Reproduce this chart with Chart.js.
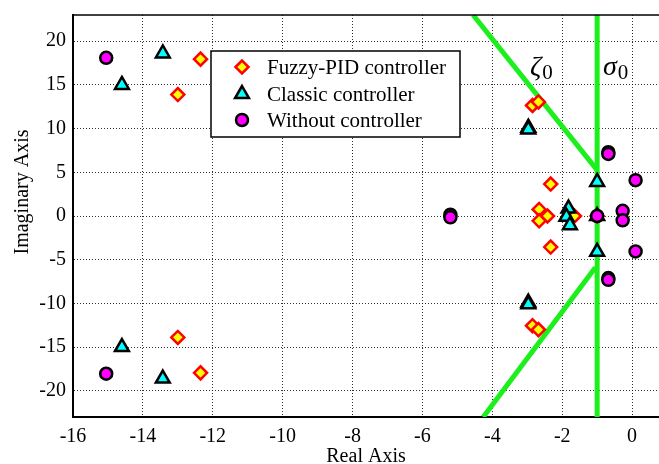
<!doctype html>
<html lang="en">
  <head>
    <meta charset="UTF-8" />
    <title>Pole map</title>
    <script src="https://cdn.jsdelivr.net/npm/chart.js"></script>
    <style>
      html,
      body {
        margin: 0;
        overflow: hidden;
        background: #fff;
      }
      #wrap {
        width: 659px;
        height: 464px;
      }
      canvas {
        display: block;
      }
    </style>
  </head>
  <body>
    <div id="wrap"><canvas id="poleChart" width="659" height="464"></canvas></div>
    <script>
      // Fuzzy-PID controller poles (real / imaginary parts)
      const fuzzyRe = [-13.0, -12.35, -13.0, -12.35, -2.85, -2.68, -2.85, -2.68, -2.33, -2.33, -2.66, -2.42, -2.66, -1.65, -1.0];
      const fuzzyIm = [13.9, 17.95, -13.9, -17.95, 12.65, 13.05, -12.55, -13.0, 3.65, -3.55, 0.75, 0.0, -0.55, 0.0, 0.0];

      // Classic controller poles
      const classicRe = [-14.6, -13.43, -14.6, -13.43, -2.97, -2.97, -2.97, -2.97, -1.0, -1.0, -1.0, -1.82, -1.88, -1.78];
      const classicIm = [15.0, 18.6, -15.0, -18.6, 10.1, 9.9, -9.9, -10.1, 3.9, -4.1, 0.0, 0.85, -0.1, -1.05];

      // Without controller poles
      const withoutRe = [-15.05, -15.05, -5.2, -5.2, -0.68, -0.68, -0.68, -0.68, 0.1, 0.1, -1.0, -0.27, -0.27];
      const withoutIm = [18.1, -18.05, 0.15, -0.15, 7.3, 7.1, -7.1, -7.3, 4.1, -4.05, 0.0, 0.6, -0.5];

      // damping (zeta0) and decay (sigma0) boundaries
      const zetaUpRe = [-4.55, -1.0];
      const zetaUpIm = [23, 5.25];
      const zetaDownRe = [-4.26, -1.05];
      const zetaDownIm = [-23, -5.9];
      const sigmaRe = [-1.0, -1.0];
      const sigmaIm = [-23, 23];

      const xTicks = [-16, -14, -12, -10, -8, -6, -4, -2, 0];
      const yTicks = [-20, -15, -10, -5, 0, 5, 10, 15, 20];

      const seriesNames = ['Fuzzy-PID controller', 'Classic controller', 'Without controller'];

      const toPoints = (re, im) => re.map((x, i) => ({ x: x, y: im[i] }));

      const serif = 'Liberation Serif';
      const green = '#1cf01c';

      function boundary(re, im) {
        return {
          data: toPoints(re, im),
          showLine: true,
          borderColor: green,
          borderWidth: 5,
          pointRadius: 0,
          pointHoverRadius: 0,
          order: 4,
        };
      }

      // symbol followed by an upright subscript 0
      function symbolZero(ctx, sym, x, y) {
        ctx.font = 'italic 28px "' + serif + '"';
        ctx.fillText(sym, x, y);
        const w = ctx.measureText(sym).width;
        ctx.font = '21px "' + serif + '"';
        ctx.fillText('0', x + w + 1, y + 4);
      }

      // box legend plus frame, titles and zeta/sigma labels
      const extras = {
        id: 'extras',
        afterDraw(chart) {
          const ctx = chart.ctx;
          const area = chart.chartArea;
          ctx.save();

          // top frame line
          ctx.strokeStyle = '#000';
          ctx.lineWidth = 1.5;
          ctx.beginPath();
          ctx.moveTo(area.left, area.top);
          ctx.lineTo(area.right, area.top);
          ctx.stroke();

          // axis titles
          ctx.fillStyle = '#000';
          ctx.font = '20px "' + serif + '"';
          ctx.textAlign = 'center';
          ctx.textBaseline = 'alphabetic';
          ctx.fillText('Real Axis', 366, 462);
          ctx.save();
          ctx.translate(28, 192);
          ctx.rotate(-Math.PI / 2);
          ctx.fillText('Imaginary Axis', 0, 0);
          ctx.restore();

          // zeta0 / sigma0
          ctx.textAlign = 'left';
          symbolZero(ctx, '\u03b6', 530, 75);
          symbolZero(ctx, '\u03c3', 603, 75);

          // legend box
          ctx.fillStyle = '#fff';
          ctx.fillRect(211, 51, 249, 86);
          ctx.strokeStyle = '#000';
          ctx.lineWidth = 1.5;
          ctx.strokeRect(211, 51, 249, 86);
          const rows = [67, 94, 120];
          chart.data.datasets.slice(0, 3).forEach((ds, i) => {
            ctx.fillStyle = ds.backgroundColor;
            ctx.strokeStyle = ds.borderColor;
            ctx.lineWidth = ds.borderWidth;
            Chart.helpers.drawPoint(ctx, {
              pointStyle: ds.pointStyle,
              radius: ds.pointRadius,
              borderWidth: ds.borderWidth,
              rotation: 0,
            }, 242, rows[i]);
            ctx.fillStyle = '#000';
            ctx.font = '21px "' + serif + '"';
            ctx.textBaseline = 'middle';
            ctx.fillText(seriesNames[i], 267, rows[i] + 1);
          });
          ctx.restore();
        },
      };

      const gridOpts = {
        color: 'rgba(0,0,0,0.8)',
        lineWidth: 1,
        drawTicks: false,
      };
      const borderOpts = { color: '#000', width: 2, dash: [1, 2] };

      function noPadding(s) {
        s.paddingLeft = 0;
        s.paddingRight = 0;
        s.paddingTop = 0;
        s.paddingBottom = 0;
      }

      new Chart(document.getElementById('poleChart').getContext('2d'), {
        type: 'scatter',
        data: {
          datasets: [
            {
              label: seriesNames[0],
              data: toPoints(fuzzyRe, fuzzyIm),
              pointStyle: 'rectRot',
              pointRadius: 6.5,
              backgroundColor: '#ffff00',
              borderColor: '#ff0000',
              borderWidth: 2.5,
              order: 3,
            },
            {
              label: seriesNames[1],
              data: toPoints(classicRe, classicIm),
              pointStyle: 'triangle',
              pointRadius: 8,
              backgroundColor: '#00ffff',
              borderColor: '#000',
              borderWidth: 2.5,
              order: 2,
            },
            {
              label: seriesNames[2],
              data: toPoints(withoutRe, withoutIm),
              pointStyle: 'circle',
              pointRadius: 6,
              backgroundColor: '#ff00ff',
              borderColor: '#000',
              borderWidth: 2.5,
              order: 1,
            },
            boundary(zetaUpRe, zetaUpIm),
            boundary(zetaDownRe, zetaDownIm),
            boundary(sigmaRe, sigmaIm),
          ],
        },
        options: {
          responsive: false,
          animation: false,
          layout: { autoPadding: false, padding: { top: 15, right: 0, left: 0, bottom: 0 } },
          plugins: {
            legend: { display: false },
            tooltip: { enabled: false },
          },
          scales: {
            x: {
              type: 'linear',
              min: -16,
              max: 0.77,
              afterBuildTicks: s => { s.ticks = xTicks.map(v => ({ value: v })); },
              afterFit: s => { s.height = 47; noPadding(s); },
              ticks: {
                color: '#000',
                padding: 8,
                font: { family: serif, size: 20 },
                callback: v => String(v),
              },
              grid: gridOpts,
              border: borderOpts,
            },
            y: {
              type: 'linear',
              min: -23,
              max: 23,
              afterBuildTicks: s => { s.ticks = yTicks.map(v => ({ value: v })); },
              afterFit: s => { s.width = 73; noPadding(s); },
              ticks: {
                color: '#000',
                padding: 7,
                font: { family: serif, size: 20 },
                callback: v => String(v),
              },
              grid: gridOpts,
              border: borderOpts,
            },
          },
        },
        plugins: [extras],
      });
    </script>
  </body>
</html>
